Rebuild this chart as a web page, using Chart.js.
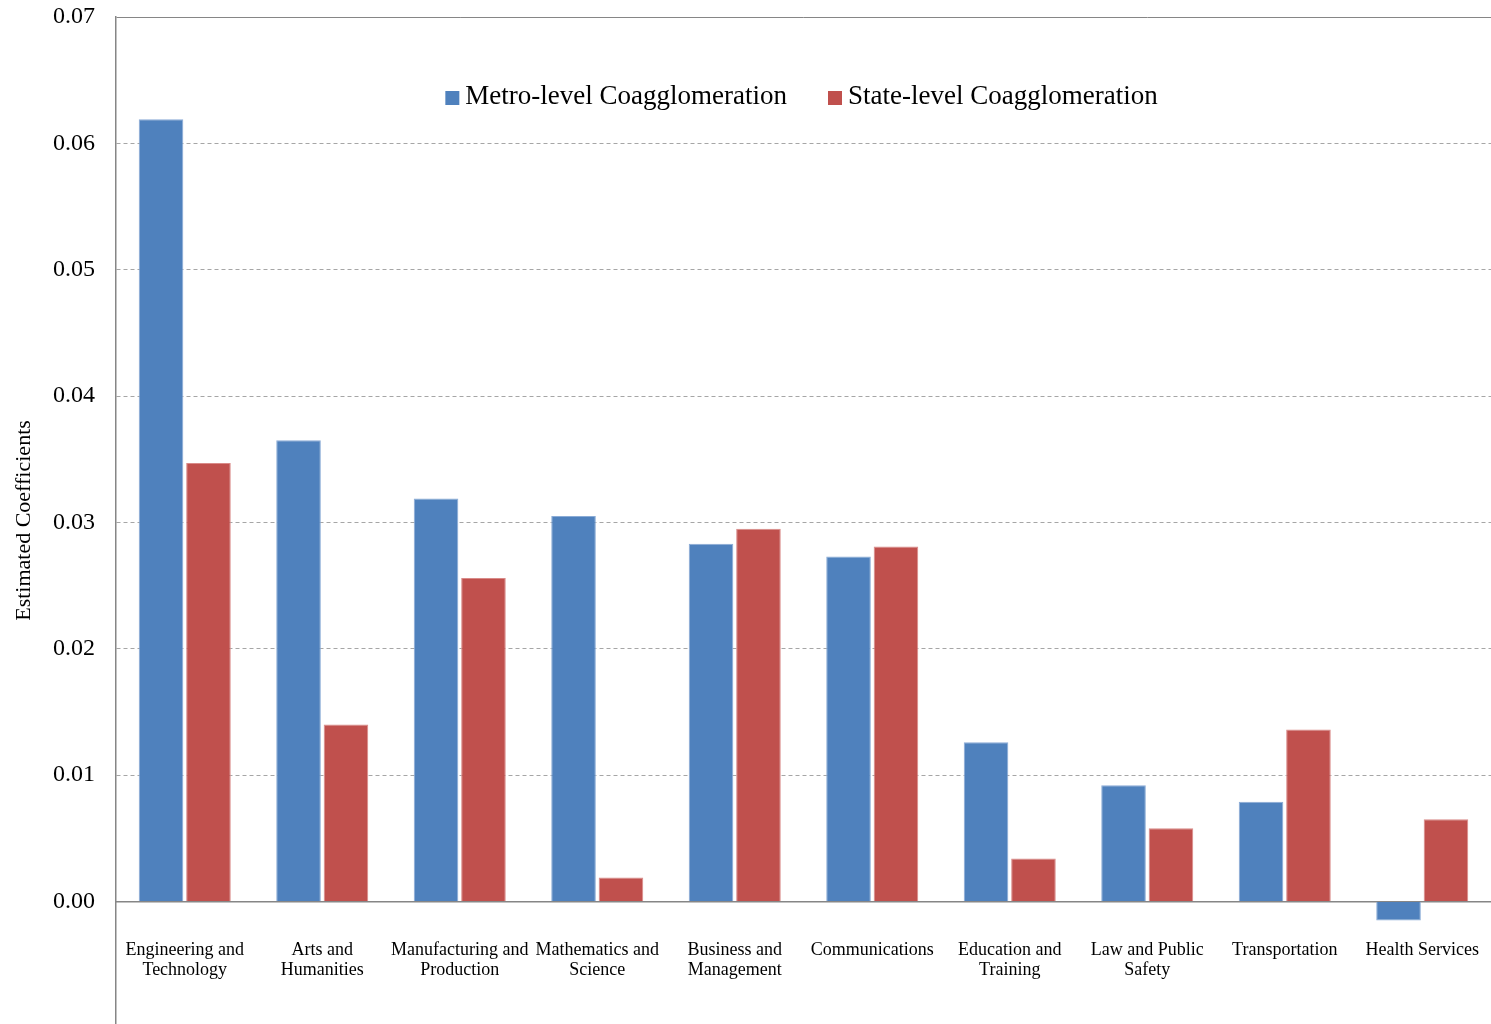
<!DOCTYPE html>
<html>
<head>
<meta charset="utf-8">
<script src="https://cdn.jsdelivr.net/npm/chart.js@4.4.1/dist/chart.umd.min.js"></script>
<style>
  html, body { margin: 0; padding: 0; background: #fff; }
  #wrap { width: 1491px; height: 1024px; }
</style>
</head>
<body>
<div id="wrap"><canvas id="myChart" width="1491" height="1024"></canvas></div>
<script>
// data
const categories = [
    ['Engineering and', 'Technology'],
    ['Arts and', 'Humanities'],
    ['Manufacturing and', 'Production'],
    ['Mathematics and', 'Science'],
    ['Business and', 'Management'],
    'Communications',
    ['Education and', 'Training'],
    ['Law and Public', 'Safety'],
    'Transportation',
    'Health Services'
];
const metroValues = [0.0619, 0.0365, 0.0319, 0.0305, 0.0283, 0.0273, 0.0126, 0.0092, 0.0079, -0.0015];
const stateValues = [0.0347, 0.0140, 0.0256, 0.0019, 0.0295, 0.0281, 0.0034, 0.0058, 0.0136, 0.0065];
const yTickValues = [0, 0.01, 0.02, 0.03, 0.04, 0.05, 0.06, 0.07];
const seriesNames = ['Metro-level Coagglomeration', 'State-level Coagglomeration'];
const seriesColors = ['#4F81BD', '#C0504D'];
const seriesEdges = ['#8AABD6', '#D98A88'];

const SERIF = "'Liberation Serif', 'Times New Roman', serif";
const yMin = -0.0097;
const yMax = 0.07;

// legend sits inside the plot area, like the Excel original
const insideLegend = {
    id: 'insideLegend',
    afterDraw(chart){
        const ctx = chart.ctx;
        const area = chart.chartArea;
        const box = 14, gap = 6, spacing = 41;
        ctx.save();
        ctx.font = '27px ' + SERIF;
        ctx.textBaseline = 'middle';
        const items = chart.data.datasets.map(ds => ({
            label: ds.label,
            color: ds.backgroundColor,
            w: box + gap + ctx.measureText(ds.label).width
        }));
        const total = items.reduce((s, it) => s + it.w, 0) + spacing * (items.length - 1);
        let x = (area.left + area.right) / 2 - total / 2 - 2;
        const y = area.top + 80;
        items.forEach(it => {
            ctx.fillStyle = it.color;
            ctx.fillRect(x, y - box / 2 + 1, box, box);
            ctx.fillStyle = '#000';
            ctx.fillText(it.label, x + box + gap, y);
            x += it.w + spacing;
        });
        ctx.restore();
    }
};

const ctx = document.getElementById('myChart').getContext('2d');
const chart = new Chart(ctx, {
    type: 'bar',
    data: {
        labels: categories,
        datasets: [
            {
                label: seriesNames[0],
                data: metroValues,
                backgroundColor: seriesColors[0],
                borderColor: seriesEdges[0],
                borderWidth: 1,
                categoryPercentage: 0.69,
                barPercentage: 0.94
            },
            {
                label: seriesNames[1],
                data: stateValues,
                backgroundColor: seriesColors[1],
                borderColor: seriesEdges[1],
                borderWidth: 1,
                categoryPercentage: 0.69,
                barPercentage: 0.94
            }
        ]
    },
    options: {
        responsive: false,
        animation: false,
        devicePixelRatio: 1,
        layout: { padding: { top: 17, left: 0, right: 0, bottom: 0 } },
        plugins: {
            legend: { display: false },
            tooltip: { enabled: false }
        },
        scales: {
            x: {
                position: { y: 0 },
                afterFit: s => { s.paddingLeft = 0; s.paddingRight = 0; },
                grid: { display: false, drawTicks: false },
                border: { display: true, color: '#868686', width: 1.5 },
                ticks: {
                    color: '#000',
                    font: { family: SERIF, size: 18, lineHeight: 1.15 },
                    padding: 38,
                    maxRotation: 0,
                    autoSkip: false
                }
            },
            y: {
                min: yMin,
                max: yMax,
                afterBuildTicks: s => { s.ticks = yTickValues.map(v => ({ value: v })); },
                afterFit: s => { s.width = 116; s.paddingTop = 0; s.paddingBottom = 0; },
                grid: {
                    drawTicks: false,
                    lineWidth: 1,
                    color: c => {
                        if (!c.tick) return '#A6A6A6';
                        if (c.tick.value === 0) return 'rgba(0,0,0,0)';
                        if (c.tick.value >= 0.065) return '#868686';
                        return '#A6A6A6';
                    }
                },
                border: {
                    color: '#868686',
                    width: 1.5,
                    dash: c => (c.tick && c.tick.value < 0.065) ? [4, 3] : []
                },
                ticks: {
                    color: '#000',
                    font: { family: SERIF, size: 24 },
                    padding: 21,
                    callback: v => v.toFixed(2)
                },
                title: {
                    display: true,
                    text: 'Estimated Coefficients',
                    color: '#000',
                    font: { family: SERIF, size: 22 },
                    padding: { top: 11, bottom: 0 }
                }
            }
        }
    },
    plugins: [insideLegend]
});
</script>
</body>
</html>
